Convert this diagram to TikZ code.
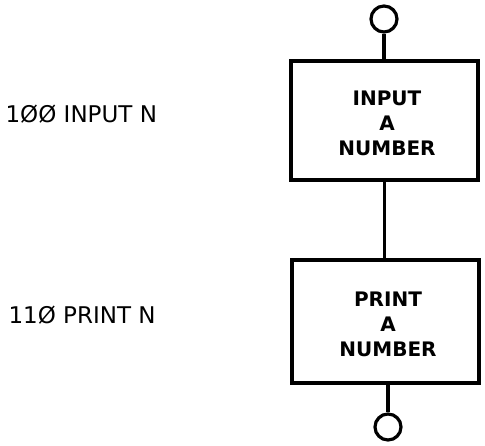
\documentclass[tikz,border=0pt]{standalone}
\usepackage{fontspec}
\setmainfont{DejaVu Sans}
\begin{document}
\begin{tikzpicture}[x=1pt,y=-1pt, line width=3.2pt,
  proc/.style={draw, rectangle, minimum width=187pt, inner sep=0pt},
  proctext/.style={align=center, inner sep=0pt, font=\fontsize{20}{25}\selectfont\bfseries},
  term/.style={draw, circle, minimum size=26pt, inner sep=0pt},
  code/.style={anchor=base west, inner sep=0pt, font=\fontsize{23}{26}\selectfont}]
\useasboundingbox[fill=white] (0,0) rectangle (485,446);
% boxes
\node[proc, minimum height=119pt] (b1) at (384.5,120.5) {};
\node[proc, minimum height=123pt] (b2) at (385.5,321.5) {};
\node[proctext] (t1) at (387,123) {INPUT\\A\\NUMBER};
\node[proctext] (t2) at (388,324) {PRINT\\A\\NUMBER};
% terminals
\node[term] (c1) at (384,19) {};
\node[term] (c2) at (388,427) {};
% connectors
\draw (c1.south) -- (b1.north -| c1.south);
\draw (b1.south) -- (b2.north -| b1.south);
\draw (b2.south -| c2.north) -- (c2.north);
% code lines
\node[code] (l1) at (4,123) {1ØØ INPUT N};
\node[code] (l2) at (7,324) {11Ø PRINT N};
\end{tikzpicture}
\end{document}
